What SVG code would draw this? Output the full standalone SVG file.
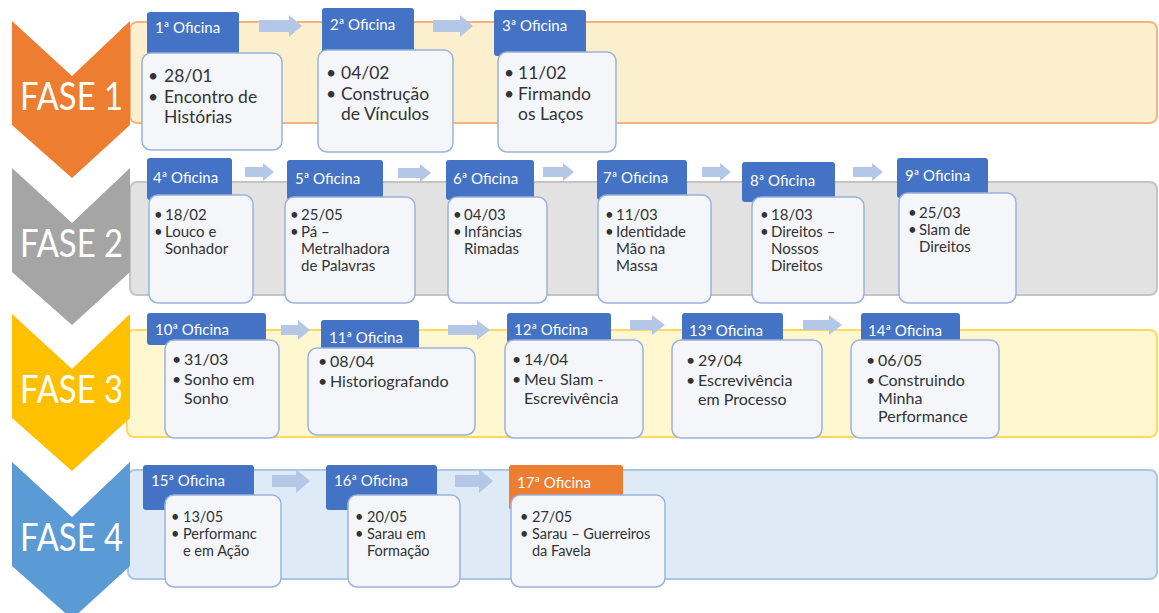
<svg xmlns="http://www.w3.org/2000/svg" width="1159" height="613" viewBox="0 0 1159 613">
<style>
.fase{font-family:Lato,"Liberation Sans",sans-serif;font-size:38px;fill:#fff;}
.hdr{fill:#4472c4;}
.hdr2{fill:#ed7d31;}
.ht{font-family:Lato,"Liberation Sans",sans-serif;font-size:15px;fill:#fff;}
.box{fill:#f4f6fa;stroke:#9cb3da;stroke-width:1.5;}
.t1{font-family:Lato,"Liberation Sans",sans-serif;font-size:17.5px;fill:#333;}
.t2{font-family:Lato,"Liberation Sans",sans-serif;font-size:15px;fill:#333;}
.t3{font-family:Lato,"Liberation Sans",sans-serif;font-size:16px;fill:#333;}
.t4{font-family:Lato,"Liberation Sans",sans-serif;font-size:14.5px;fill:#333;}
.arr{fill:#b4c7e7;}
</style>
<rect width="1159" height="613" fill="#ffffff"/>

<g id="bands">
<rect x="130" y="22" width="1027" height="101" rx="7" fill="#fbefcd" stroke="#f2b483" stroke-width="2"/>
<rect x="130" y="182" width="1027" height="113" rx="7" fill="#e2e2e2" stroke="#c4c4c4" stroke-width="2"/>
<rect x="127" y="330" width="1030" height="107" rx="7" fill="#fff7cf" stroke="#ffd85e" stroke-width="2"/>
<rect x="128" y="470" width="1029" height="109" rx="7" fill="#deebf7" stroke="#adc6e3" stroke-width="2"/>
</g>

<g id="fase1">
<polygon points="12,21 72,76 130,21 130,125 72,178 12,125" fill="#ed7d31"/>
<text class="fase" x="20" y="110" textLength="103" lengthAdjust="spacingAndGlyphs">FASE 1</text>
</g>
<g id="fase2">
<polygon points="12,168 72,223 130,168 130,272 72,325 12,272" fill="#a5a5a5"/>
<text class="fase" x="20" y="257" textLength="103" lengthAdjust="spacingAndGlyphs">FASE 2</text>
</g>
<g id="fase3">
<polygon points="12,314 72,369 130,314 130,418 72,471 12,418" fill="#ffc000"/>
<text class="fase" x="20" y="403" textLength="103" lengthAdjust="spacingAndGlyphs">FASE 3</text>
</g>
<g id="fase4">
<polygon points="12,462 72,517 130,462 130,566 72,619 12,566" fill="#5b9bd5"/>
<text class="fase" x="20" y="551" textLength="103" lengthAdjust="spacingAndGlyphs">FASE 4</text>
</g>

<g id="connectors">
<path class="arr" d="M259,20 H289 V15 L302,26 L289,37 V32 H259 Z"/>
<path class="arr" d="M433,20 H460 V15 L473,26 L460,37 V32 H433 Z"/>
<path class="arr" d="M245,167 H263 V163 L274,172 L263,181 V177 H245 Z"/>
<path class="arr" d="M398,168 H420 V164 L431,173 L420,182 V178 H398 Z"/>
<path class="arr" d="M543,167 H563 V163 L574,172 L563,181 V177 H543 Z"/>
<path class="arr" d="M702,167 H720 V163 L731,172 L720,181 V177 H702 Z"/>
<path class="arr" d="M853,167 H872 V163 L883,172 L872,181 V177 H853 Z"/>
<path class="arr" d="M281,325 H298 V320 L310,330 L298,340 V335 H281 Z"/>
<path class="arr" d="M448,325 H477 V320 L490,330 L477,340 V335 H448 Z"/>
<path class="arr" d="M630,320 H652 V315 L665,325 L652,335 V330 H630 Z"/>
<path class="arr" d="M803,320 H829 V315 L842,325 L829,335 V330 H803 Z"/>
<path class="arr" d="M272,475 H296 V469 L310,481 L296,493 V487 H272 Z"/>
<path class="arr" d="M455,475 H479 V469 L493,481 L479,493 V487 H455 Z"/>
</g>

<g id="oficina1">
<rect class="hdr" x="147" y="12" width="92" height="46" rx="3"/>
<text class="ht" x="155" y="33">1ª Oficina</text>
<rect class="box" x="142" y="53" width="140" height="97" rx="9"/>
<text class="t1" x="148" y="82">•</text><text class="t1" x="164" y="82">28/01</text>
<text class="t1" x="148" y="103">•</text><text class="t1" x="164" y="103">Encontro de</text>
<text class="t1" x="164" y="123">Histórias</text>
</g>
<g id="oficina2">
<rect class="hdr" x="322" y="8" width="92" height="46" rx="3"/>
<text class="ht" x="330" y="30">2ª Oficina</text>
<rect class="box" x="318" y="50" width="135" height="102" rx="9"/>
<text class="t1" x="326" y="79">•</text><text class="t1" x="341" y="79">04/02</text>
<text class="t1" x="326" y="100">•</text><text class="t1" x="341" y="100">Construção</text>
<text class="t1" x="341" y="120">de Vínculos</text>
</g>
<g id="oficina3">
<rect class="hdr" x="494" y="10" width="92" height="46" rx="3"/>
<text class="ht" x="502" y="31">3ª Oficina</text>
<rect class="box" x="498" y="52" width="118" height="100" rx="9"/>
<text class="t1" x="504" y="79">•</text><text class="t1" x="518" y="79">11/02</text>
<text class="t1" x="504" y="100">•</text><text class="t1" x="518" y="100">Firmando</text>
<text class="t1" x="518" y="120">os Laços</text>
</g>

<g id="oficina4">
<rect class="hdr" x="147" y="158" width="85" height="42" rx="3"/>
<text class="ht" x="153" y="183">4ª Oficina</text>
<rect class="box" x="149" y="195" width="104" height="108" rx="9"/>
<text class="t2" x="154" y="220">•</text><text class="t2" x="165" y="220">18/02</text>
<text class="t2" x="154" y="237">•</text><text class="t2" x="165" y="237">Louco e</text>
<text class="t2" x="165" y="254">Sonhador</text>
</g>
<g id="oficina5">
<rect class="hdr" x="287" y="160" width="96" height="40" rx="3"/>
<text class="ht" x="295" y="184">5ª Oficina</text>
<rect class="box" x="285" y="197" width="130" height="106" rx="9"/>
<text class="t2" x="290" y="220">•</text><text class="t2" x="301" y="220">25/05</text>
<text class="t2" x="290" y="237">•</text><text class="t2" x="301" y="237">Pá –</text>
<text class="t2" x="301" y="254">Metralhadora</text>
<text class="t2" x="301" y="271">de Palavras</text>
</g>
<g id="oficina6">
<rect class="hdr" x="446" y="160" width="88" height="40" rx="3"/>
<text class="ht" x="453" y="184">6ª Oficina</text>
<rect class="box" x="448" y="197" width="99" height="106" rx="9"/>
<text class="t2" x="453" y="220">•</text><text class="t2" x="464" y="220">04/03</text>
<text class="t2" x="453" y="237">•</text><text class="t2" x="464" y="237">Infâncias</text>
<text class="t2" x="464" y="254">Rimadas</text>
</g>
<g id="oficina7">
<rect class="hdr" x="597" y="160" width="90" height="40" rx="3"/>
<text class="ht" x="603" y="183">7ª Oficina</text>
<rect class="box" x="598" y="195" width="113" height="108" rx="9"/>
<text class="t2" x="605" y="220">•</text><text class="t2" x="616" y="220">11/03</text>
<text class="t2" x="605" y="237">•</text><text class="t2" x="616" y="237">Identidade</text>
<text class="t2" x="616" y="254">Mão na</text>
<text class="t2" x="616" y="271">Massa</text>
</g>
<g id="oficina8">
<rect class="hdr" x="742" y="162" width="93" height="40" rx="3"/>
<text class="ht" x="750" y="186">8ª Oficina</text>
<rect class="box" x="752" y="197" width="112" height="106" rx="9"/>
<text class="t2" x="760" y="220">•</text><text class="t2" x="771" y="220">18/03</text>
<text class="t2" x="760" y="237">•</text><text class="t2" x="771" y="237">Direitos –</text>
<text class="t2" x="771" y="254">Nossos</text>
<text class="t2" x="771" y="271">Direitos</text>
</g>
<g id="oficina9">
<rect class="hdr" x="897" y="158" width="91" height="40" rx="3"/>
<text class="ht" x="905" y="181">9ª Oficina</text>
<rect class="box" x="899" y="193" width="117" height="110" rx="9"/>
<text class="t2" x="908" y="218">•</text><text class="t2" x="919" y="218">25/03</text>
<text class="t2" x="908" y="235">•</text><text class="t2" x="919" y="235">Slam de</text>
<text class="t2" x="919" y="252">Direitos</text>
</g>

<g id="oficina10">
<rect class="hdr" x="147" y="313" width="119" height="32" rx="3"/>
<text class="ht" x="155" y="335">10ª Oficina</text>
<rect class="box" x="165" y="340" width="114" height="98" rx="9"/>
<text class="t3" x="172" y="365">•</text><text class="t3" x="184" y="365">31/03</text>
<text class="t3" x="172" y="385">•</text><text class="t3" x="184" y="385">Sonho em</text>
<text class="t3" x="184" y="404">Sonho</text>
</g>
<g id="oficina11">
<rect class="hdr" x="321" y="320" width="98" height="32" rx="3"/>
<text class="ht" x="329" y="343">11ª Oficina</text>
<rect class="box" x="308" y="348" width="167" height="87" rx="9"/>
<text class="t3" x="318" y="367">•</text><text class="t3" x="330" y="367">08/04</text>
<text class="t3" x="318" y="387">•</text><text class="t3" x="330" y="387">Historiografando</text>
</g>
<g id="oficina12">
<rect class="hdr" x="507" y="313" width="104" height="30" rx="3"/>
<text class="ht" x="514" y="335">12ª Oficina</text>
<rect class="box" x="505" y="340" width="138" height="98" rx="9"/>
<text class="t3" x="512" y="365">•</text><text class="t3" x="524" y="365">14/04</text>
<text class="t3" x="512" y="385">•</text><text class="t3" x="524" y="385">Meu Slam -</text>
<text class="t3" x="524" y="404">Escrevivência</text>
</g>
<g id="oficina13">
<rect class="hdr" x="682" y="313" width="101" height="30" rx="3"/>
<text class="ht" x="689" y="336">13ª Oficina</text>
<rect class="box" x="672" y="340" width="150" height="98" rx="9"/>
<text class="t3" x="686" y="366">•</text><text class="t3" x="698" y="366">29/04</text>
<text class="t3" x="686" y="386">•</text><text class="t3" x="698" y="386">Escrevivência</text>
<text class="t3" x="698" y="405">em Processo</text>
</g>
<g id="oficina14">
<rect class="hdr" x="861" y="313" width="99" height="30" rx="3"/>
<text class="ht" x="868" y="336">14ª Oficina</text>
<rect class="box" x="851" y="340" width="148" height="98" rx="9"/>
<text class="t3" x="866" y="366">•</text><text class="t3" x="878" y="366">06/05</text>
<text class="t3" x="866" y="386">•</text><text class="t3" x="878" y="386">Construindo</text>
<text class="t3" x="878" y="404">Minha</text>
<text class="t3" x="878" y="422">Performance</text>
</g>

<g id="oficina15">
<rect class="hdr" x="143" y="465" width="111" height="45" rx="3"/>
<text class="ht" x="151" y="486">15ª Oficina</text>
<rect class="box" x="165" y="495" width="116" height="92" rx="9"/>
<text class="t4" x="171" y="522">•</text><text class="t4" x="183" y="522">13/05</text>
<text class="t4" x="171" y="539">•</text><text class="t4" x="183" y="539">Performanc</text>
<text class="t4" x="183" y="556">e em Ação</text>
</g>
<g id="oficina16">
<rect class="hdr" x="326" y="465" width="111" height="45" rx="3"/>
<text class="ht" x="334" y="486">16ª Oficina</text>
<rect class="box" x="348" y="495" width="112" height="92" rx="9"/>
<text class="t4" x="355" y="522">•</text><text class="t4" x="367" y="522">20/05</text>
<text class="t4" x="355" y="539">•</text><text class="t4" x="367" y="539">Sarau em</text>
<text class="t4" x="367" y="556">Formação</text>
</g>
<g id="oficina17">
<rect class="hdr2" x="509" y="465" width="114" height="45" rx="3"/>
<text class="ht" x="517" y="488">17ª Oficina</text>
<rect class="box" x="511" y="495" width="154" height="92" rx="9"/>
<text class="t4" x="520" y="522">•</text><text class="t4" x="532" y="522">27/05</text>
<text class="t4" x="520" y="539">•</text><text class="t4" x="532" y="539">Sarau – Guerreiros</text>
<text class="t4" x="532" y="556">da Favela</text>
</g>
</svg>
